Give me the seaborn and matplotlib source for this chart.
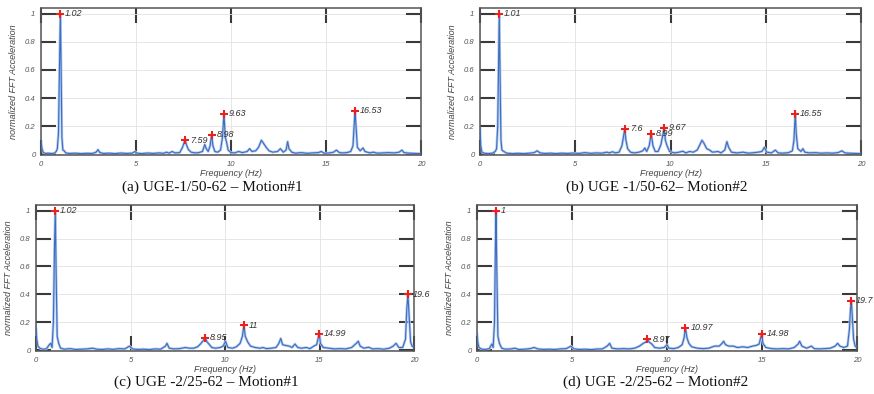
import matplotlib
matplotlib.use("Agg")
import matplotlib.pyplot as plt
import seaborn as sns
import pandas as pd
from matplotlib.ticker import FuncFormatter

# ---------------- data ----------------
trace_a = [(0.00,0.10),(0.05,0.04),(0.12,0.012),(0.25,0.006),(0.4,0.008),(0.55,0.005),(0.7,0.008),(0.8,0.02),(0.86,0.04),(0.92,0.15),(0.97,0.6),(1.02,1.0),(1.06,0.6),(1.1,0.12),(1.15,0.03),(1.22,0.025),(1.3,0.01),(1.5,0.006),(1.8,0.008),(2.1,0.005),(2.4,0.007),(2.7,0.006),(2.9,0.015),(3.0,0.033),(3.1,0.012),(3.3,0.006),(3.6,0.008),(3.9,0.005),(4.2,0.009),(4.5,0.006),(4.8,0.008),(4.95,0.02),(5.05,0.008),(5.3,0.005),(5.6,0.009),(5.9,0.006),(6.2,0.01),(6.45,0.007),(6.6,0.015),(6.75,0.008),(6.9,0.02),(7.05,0.01),(7.3,0.012),(7.45,0.05),(7.55,0.09),(7.59,0.10),(7.65,0.07),(7.75,0.035),(7.9,0.015),(8.1,0.01),(8.3,0.012),(8.5,0.02),(8.62,0.07),(8.7,0.04),(8.8,0.02),(8.9,0.06),(8.98,0.14),(9.05,0.06),(9.15,0.02),(9.3,0.015),(9.45,0.03),(9.55,0.12),(9.63,0.29),(9.7,0.12),(9.76,0.09),(9.85,0.03),(10.0,0.012),(10.2,0.01),(10.4,0.02),(10.6,0.012),(10.85,0.02),(10.98,0.04),(11.1,0.02),(11.3,0.025),(11.45,0.05),(11.6,0.10),(11.7,0.08),(11.85,0.05),(12.0,0.025),(12.2,0.015),(12.45,0.02),(12.6,0.04),(12.75,0.015),(12.9,0.03),(12.98,0.09),(13.05,0.04),(13.2,0.015),(13.4,0.008),(13.7,0.012),(14.0,0.007),(14.3,0.01),(14.6,0.012),(14.75,0.02),(14.9,0.008),(15.2,0.01),(15.4,0.015),(15.55,0.03),(15.7,0.012),(15.9,0.01),(16.1,0.012),(16.3,0.02),(16.42,0.06),(16.5,0.25),(16.53,0.31),(16.58,0.2),(16.65,0.05),(16.8,0.025),(16.95,0.045),(17.05,0.02),(17.3,0.01),(17.5,0.015),(17.7,0.008),(18.0,0.01),(18.3,0.012),(18.6,0.01),(18.85,0.015),(19.0,0.03),(19.1,0.012),(19.4,0.008),(19.7,0.006),(20.0,0.005)]

trace_b = [(0.00,0.19),(0.04,0.06),(0.1,0.015),(0.25,0.007),(0.45,0.005),(0.65,0.008),(0.8,0.02),(0.87,0.04),(0.93,0.2),(0.98,0.7),(1.01,1.0),(1.05,0.6),(1.1,0.1),(1.15,0.03),(1.25,0.02),(1.4,0.008),(1.7,0.005),(2.0,0.007),(2.3,0.005),(2.6,0.008),(2.85,0.012),(3.0,0.025),(3.15,0.01),(3.4,0.006),(3.7,0.008),(4.0,0.005),(4.3,0.008),(4.6,0.006),(4.9,0.009),(5.2,0.006),(5.5,0.012),(5.8,0.007),(6.1,0.01),(6.4,0.008),(6.65,0.015),(6.8,0.01),(6.95,0.018),(7.1,0.01),(7.3,0.015),(7.45,0.06),(7.55,0.14),(7.6,0.18),(7.66,0.1),(7.75,0.04),(7.9,0.015),(8.1,0.01),(8.35,0.015),(8.55,0.025),(8.65,0.045),(8.75,0.02),(8.88,0.06),(8.99,0.145),(9.08,0.06),(9.2,0.02),(9.35,0.02),(9.5,0.07),(9.6,0.14),(9.67,0.19),(9.73,0.1),(9.82,0.06),(9.95,0.02),(10.2,0.01),(10.45,0.015),(10.65,0.022),(10.8,0.01),(11.0,0.02),(11.2,0.015),(11.4,0.03),(11.55,0.07),(11.65,0.10),(11.75,0.08),(11.9,0.04),(12.05,0.03),(12.2,0.015),(12.5,0.02),(12.65,0.01),(12.85,0.03),(12.96,0.09),(13.05,0.05),(13.2,0.015),(13.5,0.01),(13.8,0.015),(14.1,0.008),(14.4,0.012),(14.6,0.015),(14.8,0.02),(14.93,0.05),(15.05,0.015),(15.3,0.01),(15.5,0.03),(15.65,0.01),(15.9,0.008),(16.2,0.012),(16.4,0.025),(16.48,0.1),(16.55,0.29),(16.6,0.15),(16.68,0.04),(16.85,0.02),(16.95,0.04),(17.05,0.015),(17.3,0.01),(17.6,0.012),(17.9,0.008),(18.2,0.01),(18.5,0.008),(18.8,0.012),(19.0,0.025),(19.15,0.01),(19.5,0.007),(20.0,0.005)]

trace_c = [(0.00,0.16),(0.04,0.08),(0.1,0.03),(0.2,0.015),(0.35,0.008),(0.55,0.01),(0.7,0.04),(0.78,0.05),(0.85,0.02),(0.92,0.2),(0.98,0.75),(1.02,1.0),(1.06,0.6),(1.12,0.1),(1.2,0.05),(1.3,0.015),(1.5,0.008),(1.8,0.012),(2.1,0.006),(2.4,0.008),(2.7,0.01),(3.0,0.015),(3.2,0.008),(3.5,0.006),(3.8,0.01),(4.1,0.007),(4.4,0.012),(4.7,0.01),(4.95,0.03),(5.1,0.01),(5.4,0.006),(5.7,0.008),(6.0,0.005),(6.3,0.01),(6.6,0.008),(6.85,0.03),(6.93,0.05),(7.05,0.015),(7.3,0.01),(7.6,0.012),(7.9,0.02),(8.1,0.015),(8.35,0.015),(8.55,0.025),(8.7,0.045),(8.85,0.07),(8.95,0.09),(9.05,0.06),(9.15,0.045),(9.3,0.02),(9.5,0.015),(9.75,0.02),(9.9,0.03),(10.03,0.065),(10.15,0.02),(10.4,0.015),(10.6,0.025),(10.8,0.05),(10.92,0.1),(11.0,0.18),(11.07,0.1),(11.2,0.06),(11.35,0.03),(11.6,0.02),(11.85,0.015),(12.0,0.02),(12.2,0.012),(12.45,0.015),(12.7,0.02),(12.85,0.05),(12.95,0.085),(13.05,0.04),(13.2,0.035),(13.4,0.03),(13.55,0.02),(13.7,0.045),(13.85,0.02),(14.05,0.015),(14.3,0.02),(14.5,0.012),(14.7,0.03),(14.85,0.04),(14.95,0.1),(14.99,0.12),(15.05,0.05),(15.2,0.02),(15.5,0.015),(15.8,0.01),(16.1,0.012),(16.4,0.01),(16.7,0.02),(16.95,0.05),(17.05,0.065),(17.15,0.03),(17.35,0.015),(17.6,0.022),(17.8,0.01),(18.1,0.012),(18.4,0.008),(18.7,0.015),(18.9,0.03),(19.05,0.05),(19.2,0.02),(19.4,0.02),(19.55,0.08),(19.62,0.3),(19.68,0.40),(19.74,0.25),(19.82,0.06),(19.9,0.03),(20.0,0.02)]

trace_d = [(0.00,0.12),(0.04,0.06),(0.1,0.02),(0.25,0.008),(0.45,0.006),(0.65,0.012),(0.78,0.045),(0.85,0.02),(0.92,0.2),(0.97,0.75),(1.0,1.0),(1.04,0.6),(1.1,0.1),(1.18,0.05),(1.3,0.015),(1.5,0.008),(1.8,0.01),(2.0,0.015),(2.2,0.006),(2.5,0.008),(2.8,0.012),(3.0,0.02),(3.2,0.01),(3.5,0.006),(3.8,0.008),(4.1,0.006),(4.4,0.01),(4.7,0.012),(4.95,0.03),(5.1,0.01),(5.4,0.006),(5.7,0.008),(6.0,0.005),(6.3,0.009),(6.6,0.01),(6.85,0.03),(6.98,0.05),(7.1,0.015),(7.4,0.01),(7.7,0.012),(8.0,0.01),(8.3,0.015),(8.55,0.03),(8.75,0.05),(8.9,0.06),(8.97,0.08),(9.05,0.06),(9.2,0.045),(9.35,0.02),(9.6,0.015),(9.85,0.02),(10.0,0.04),(10.1,0.015),(10.35,0.012),(10.6,0.02),(10.8,0.04),(10.9,0.09),(10.97,0.16),(11.05,0.09),(11.15,0.05),(11.3,0.025),(11.6,0.015),(11.9,0.012),(12.2,0.015),(12.5,0.03),(12.75,0.03),(12.9,0.05),(12.98,0.065),(13.08,0.04),(13.25,0.03),(13.5,0.03),(13.7,0.02),(14.0,0.025),(14.25,0.02),(14.5,0.03),(14.7,0.035),(14.85,0.045),(14.95,0.1),(14.98,0.12),(15.05,0.05),(15.2,0.02),(15.5,0.012),(15.8,0.01),(16.1,0.012),(16.4,0.01),(16.7,0.02),(16.9,0.045),(16.98,0.065),(17.1,0.03),(17.35,0.015),(17.6,0.03),(17.75,0.012),(18.0,0.01),(18.3,0.012),(18.6,0.015),(18.85,0.03),(18.98,0.05),(19.1,0.03),(19.3,0.02),(19.5,0.03),(19.6,0.15),(19.66,0.3),(19.7,0.355),(19.75,0.25),(19.82,0.08),(19.9,0.03),(20.0,0.02)]

peaks_a_f = [1.02, 7.59, 8.98, 9.63, 16.53]
peaks_a_y = [1.0, 0.10, 0.14, 0.29, 0.31]
peaks_a_lbl = ["1.02", "7.59", "8.98", "9.63", "16.53"]

peaks_b_f = [1.01, 7.6, 8.99, 9.67, 16.55]
peaks_b_y = [1.0, 0.18, 0.145, 0.19, 0.29]
peaks_b_lbl = ["1.01", "7.6", "8.99", "9.67", "16.55"]

peaks_c_f = [1.02, 8.95, 11.0, 14.99, 19.68]
peaks_c_y = [1.0, 0.09, 0.18, 0.12, 0.40]
peaks_c_lbl = ["1.02", "8.95", "11", "14.99", "19.6"]

peaks_d_f = [1.0, 8.97, 10.97, 14.98, 19.7]
peaks_d_y = [1.0, 0.08, 0.16, 0.12, 0.355]
peaks_d_lbl = ["1", "8.97", "10.97", "14.98", "19.7"]

captions = ["(a) UGE-1/50-62 \u2013 Motion#1",
            "(b) UGE -1/50-62\u2013 Motion#2",
            "(c) UGE -2/25-62 \u2013 Motion#1",
            "(d) UGE -2/25-62 \u2013 Motion#2"]

x_ticks = [0, 5, 10, 15, 20]
y_ticks = [0, 0.2, 0.4, 0.6, 0.8, 1.0]
x_label = "Frequency (Hz)"
y_label = "normalized FFT Acceleration"

# ---------------- layout (pixels in an 874x394 canvas) ----------------
W, H = 874, 394
boxes = [  # left, right, top, bottom (px)
    (41, 421, 8, 155),
    (480, 861, 8, 155),
    (36, 414, 205, 351),
    (477, 857, 205, 351),
]
cap_pos = [(212, 187), (657, 187), (206, 382), (656, 382)]

sns.set_style("white")
plt.rcParams["font.family"] = ["Liberation Sans", "DejaVu Sans"]

fig = plt.figure(figsize=(W / 100, H / 100), dpi=100)

panels = [
    (trace_a, peaks_a_f, peaks_a_y, peaks_a_lbl),
    (trace_b, peaks_b_f, peaks_b_y, peaks_b_lbl),
    (trace_c, peaks_c_f, peaks_c_y, peaks_c_lbl),
    (trace_d, peaks_d_f, peaks_d_y, peaks_d_lbl),
]

for i, ((trace, pf, py, pl), (l, r, t, b)) in enumerate(zip(panels, boxes)):
    ax = fig.add_axes([l / W, 1 - b / H, (r - l) / W, (b - t) / H])
    df = pd.DataFrame(trace, columns=["freq", "amp"])
    ax.grid(True, color="#e2e2e2", lw=0.6)
    ax.set_axisbelow(True)
    sns.lineplot(data=df, x="freq", y="amp", ax=ax, color="#b3cbee",
                 lw=1.9, estimator=None, sort=False, zorder=2)
    sns.lineplot(data=df, x="freq", y="amp", ax=ax, color="#3d6cc0",
                 lw=0.8, estimator=None, sort=False, zorder=3)
    pk = pd.DataFrame({"f": pf, "y": py})
    sns.scatterplot(data=pk, x="f", y="y", ax=ax, marker="+", color="#e8231e",
                    s=32, linewidth=1.5, zorder=5, clip_on=False)
    for f, y, s in zip(pf, py, pl):
        ax.annotate(s, (f, y), xytext=(3.5, 0), textcoords="offset points",
                    fontsize=6.5, style="italic", color="#333333",
                    va="center", ha="left", annotation_clip=False, zorder=6)
    ax.set_xlim(0, 20)
    ax.set_ylim(-0.005, 1.04)
    ax.set_xticks(x_ticks)
    ax.set_yticks(y_ticks)
    ax.xaxis.set_major_formatter(FuncFormatter(lambda v, p: f"{v:g}"))
    ax.yaxis.set_major_formatter(FuncFormatter(lambda v, p: f"{v:g}"))
    ax.tick_params(axis="both", which="major", direction="in", length=11,
                   width=1.5, color="#3a3a3a", labelsize=5.5,
                   labelcolor="#555555", top=True, right=True,
                   bottom=True, left=True, pad=4)
    for lab in ax.get_xticklabels() + ax.get_yticklabels():
        lab.set_style("italic")
    for sp in ax.spines.values():
        sp.set_color("#555555")
        sp.set_linewidth(1.1)
    ax.set_xlabel(x_label, fontsize=6.5, style="italic", color="#444444", labelpad=1)
    ax.set_ylabel(y_label, fontsize=6.5, style="italic", color="#444444", labelpad=5)
    cx, cy = cap_pos[i]
    fig.text(cx / W, 1 - cy / H, captions[i], ha="center", va="center",
             fontsize=11, family="Liberation Serif", color="#111111")

fig.savefig("out.png", dpi=100, facecolor="white")
